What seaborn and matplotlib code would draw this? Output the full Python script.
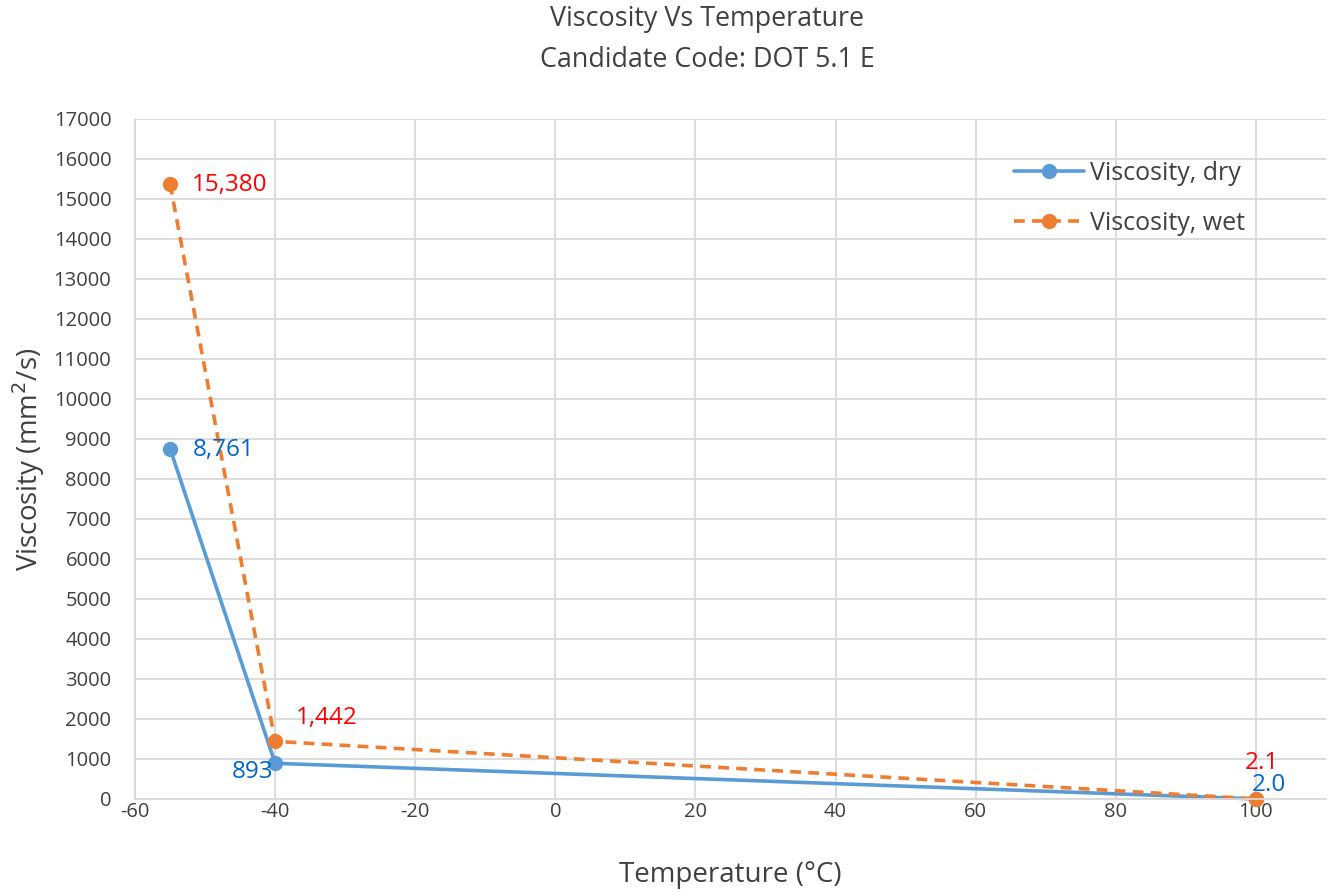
import pandas as pd
import numpy as np
import matplotlib
matplotlib.use("Agg")
import matplotlib.pyplot as plt
import seaborn as sns

# data
temperature = [-55, -40, 100]
visc_dry = [8761, 893, 2.0]
visc_wet = [15380, 1442, 2.1]
label_dry = ["8,761", "893", "2.0"]
label_wet = ["15,380", "1,442", "2.1"]
series_names = ["Viscosity, dry", "Viscosity, wet"]

df = pd.DataFrame({
    "Temperature": temperature * 2,
    "Viscosity": visc_dry + visc_wet,
    "series": [series_names[0]] * 3 + [series_names[1]] * 3,
})

sns.set_theme(style="white")
plt.rcParams["font.family"] = ["Open Sans", "DejaVu Sans"]
plt.rcParams["axes.unicode_minus"] = False

c_dry = "#5B9BD5"
c_wet = "#ED7D31"
txt = "#404040"

fig = plt.figure(figsize=(13.32, 8.92), dpi=100)
ax = fig.add_axes([135 / 1332, 1 - 799 / 892, (1326 - 135) / 1332, (799 - 119) / 892])

sns.lineplot(data=df, x="Temperature", y="Viscosity", hue="series", style="series",
             palette={series_names[0]: c_dry, series_names[1]: c_wet},
             dashes={series_names[0]: "", series_names[1]: (3, 2)},
             markers={series_names[0]: "o", series_names[1]: "o"},
             markersize=11, markeredgewidth=0, linewidth=2.6, sort=False, ax=ax)
for ln in ax.lines:
    ln.set_clip_on(False)

ax.set_xlim(-60, 110)
ax.set_ylim(0, 17000)
ax.set_xticks(range(-60, 101, 20))
ax.set_yticks(range(0, 17001, 1000))
ax.grid(True, color="#d9d9d9", linewidth=1.3)
ax.tick_params(axis="both", length=0, labelsize=14.5, labelcolor=txt)
ax.tick_params(axis="y", pad=17)
ax.tick_params(axis="x", pad=2)
for s in ["top", "right"]:
    ax.spines[s].set_visible(False)
for s in ["left", "bottom"]:
    ax.spines[s].set_color("#d9d9d9")
    ax.spines[s].set_linewidth(1.3)

ax.set_xlabel("Temperature (°C)", fontsize=20, color=txt, labelpad=28)
ax.set_ylabel("Viscosity (mm$^2$/s)", fontsize=20, color=txt, labelpad=5)

# data labels
dry_off = [(16, -1, "left", "center"), (-1, -6, "right", "center"), (9, 10, "center", "center")]
wet_off = [(16, -1, "left", "center"), (15, 17, "left", "center"), (4, 26, "center", "center")]
for x, y, lab, (dx, dy, ha, va) in zip(temperature, visc_dry, label_dry, dry_off):
    ax.annotate(lab, (x, y), xytext=(dx, dy), textcoords="offset points",
                ha=ha, va=va, fontsize=17.5, color="#0066CC")
for x, y, lab, (dx, dy, ha, va) in zip(temperature, visc_wet, label_wet, wet_off):
    ax.annotate(lab, (x, y), xytext=(dx, dy), textcoords="offset points",
                ha=ha, va=va, fontsize=17.5, color="#FF0000")

leg = ax.legend(loc="upper left", bbox_to_anchor=(991 / 1332, 1 - 138 / 892),
                bbox_transform=fig.transFigure, frameon=False,
                fontsize=18, handlelength=2.8, labelspacing=1.0, handletextpad=0.25)
for t in leg.get_texts():
    t.set_color(txt)

fig.text(707 / 1332, 1 - 19 / 892, "Viscosity Vs Temperature", ha="center", va="center",
         fontsize=19.4, color=txt)
fig.text(707 / 1332, 1 - 60 / 892, "Candidate Code: DOT 5.1 E", ha="center", va="center",
         fontsize=19.4, color=txt)

fig.savefig("out.png", dpi=100)
